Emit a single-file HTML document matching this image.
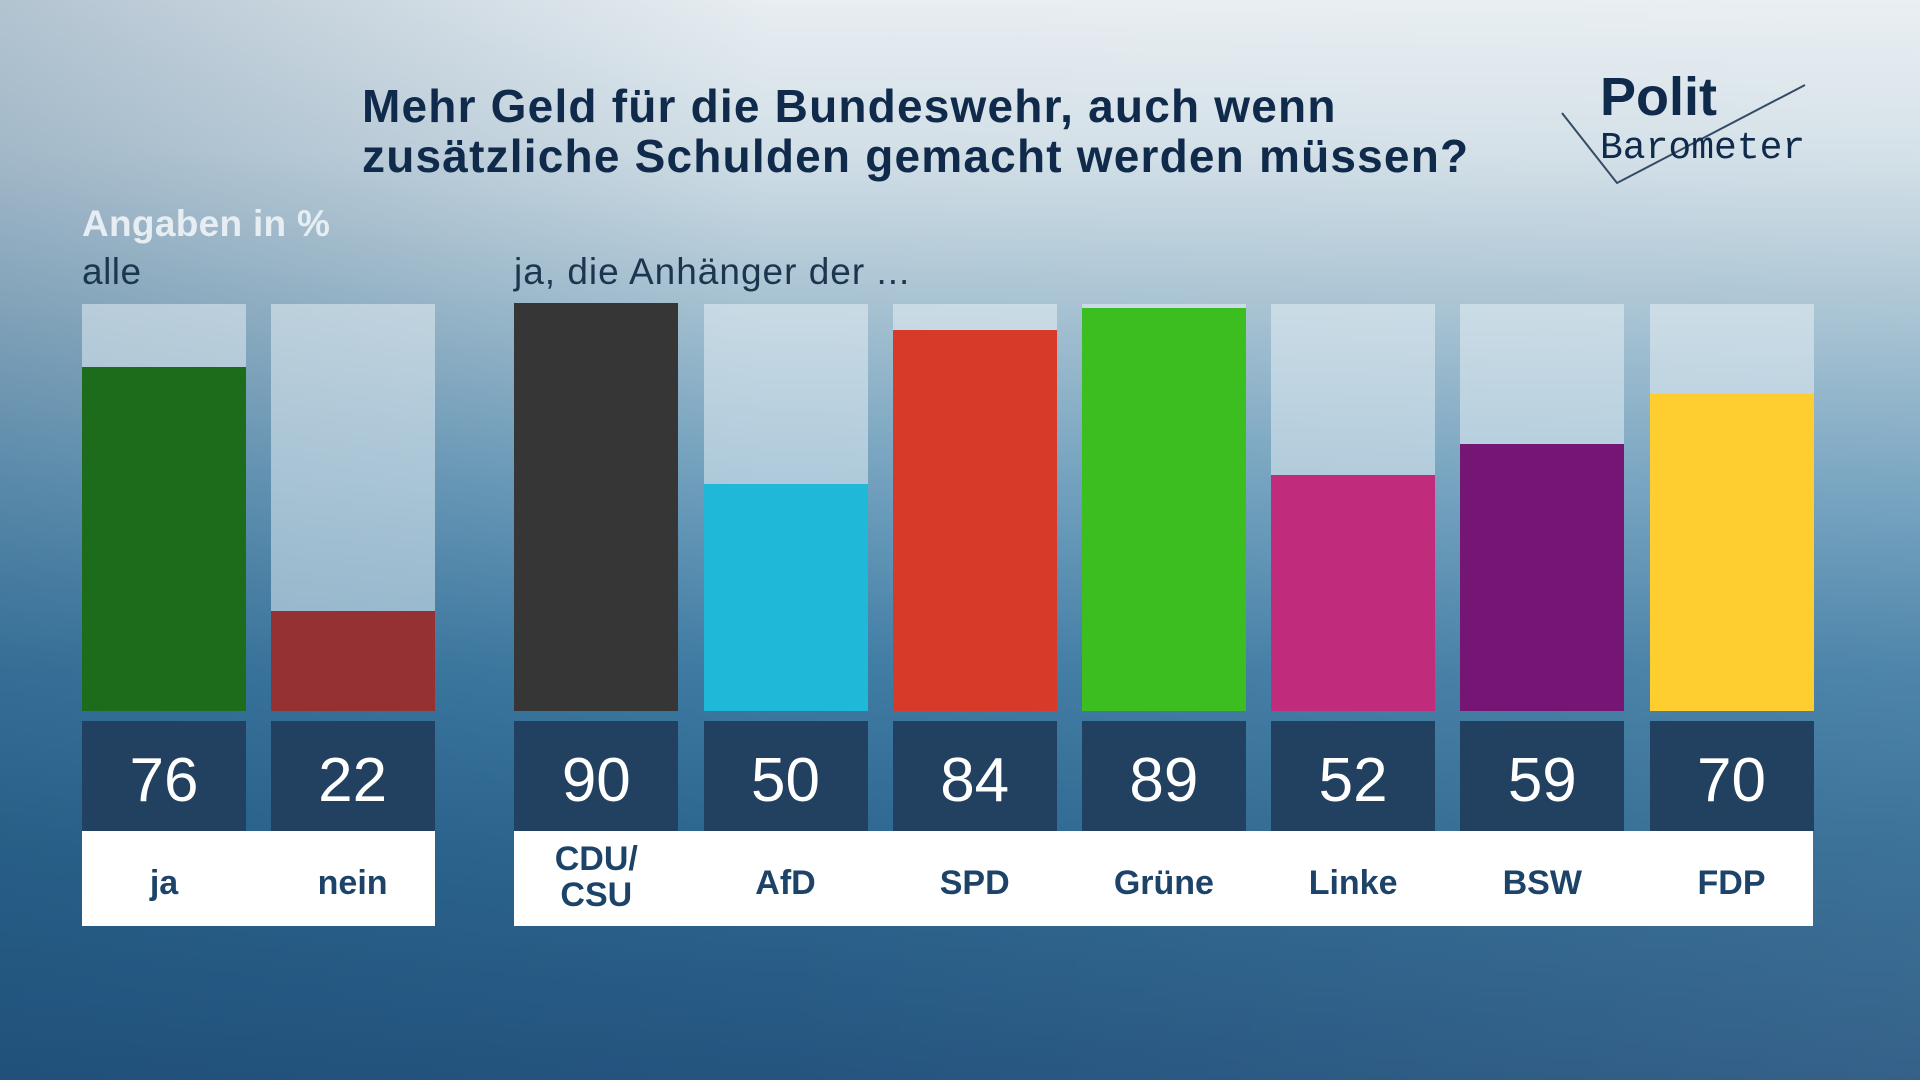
<!DOCTYPE html>
<html><head><meta charset="utf-8"><style>
*{margin:0;padding:0;box-sizing:border-box}
body{width:1920px;height:1080px;overflow:hidden;position:relative;font-family:"Liberation Sans","DejaVu Sans",sans-serif;
background:linear-gradient(180deg,#e8eef2 0%,#d2dfe7 14%,#a7c2d2 28%,#6f9fbd 45%,#3f7ba3 62%,#2d6790 78%,#24547f 100%);}
.ov{position:absolute;inset:0;background:linear-gradient(90deg,rgba(20,70,110,0.25) 0%,rgba(20,70,110,0) 40%,rgba(255,255,255,0.08) 100%)}
.a{position:absolute}
.title{left:362px;top:81px;font-size:46px;font-weight:bold;color:#0f2a4a;line-height:50px;letter-spacing:1.2px}
.bg{position:absolute;top:304px;height:407px;width:164px;background:rgba(235,243,248,0.5)}
.bar{position:absolute;bottom:369px;width:164px}
.num{position:absolute;top:721px;height:110px;width:164px;background:#22405f;color:#fff;font-size:62px;text-align:center;line-height:120px;font-weight:normal;-webkit-text-stroke:0}
.lab{position:absolute;top:836px;height:95px;width:164px;color:#1d4368;font-size:34px;font-weight:bold;text-align:center;line-height:95px}
.wb{position:absolute;top:831px;height:95px;background:#fff}
</style></head><body>
<div class="ov"></div>
<div class="a title">Mehr Geld für die Bundeswehr, auch wenn<br>zusätzliche Schulden gemacht werden müssen?</div>
<div class="a" style="left:1560px;top:68px;width:250px;height:120px">
<svg width="250" height="120"><polyline points="2,45 57,115 245,17" fill="none" stroke="#334b63" stroke-width="2"/>
<text x="40" y="47" font-family="Liberation Sans" font-weight="bold" font-size="54" fill="#0f2a4a">Polit</text>
<text x="40" y="90" font-family="Liberation Mono" font-size="38" fill="#0f2a4a">Barometer</text></svg></div>
<div class="a" style="left:82px;top:203px;font-size:37px;font-weight:bold;color:#e6eef3;letter-spacing:0.3px">Angaben in %</div>
<div class="a" style="left:82px;top:251px;font-size:37px;color:#1d3650;letter-spacing:0.5px">alle</div>
<div class="a" style="left:514px;top:251px;font-size:37px;color:#1d3650;letter-spacing:1px">ja, die Anhänger der ...</div>
<div class="wb" style="left:82px;width:353px"></div>
<div class="wb" style="left:514px;width:1299px"></div>
<div id="c"></div>
<script>
var d=[[82,76,"#1c6c1c","ja"],[270.6,22,"#953033","nein"],[514.3,90,"#363636","CDU/<br>CSU"],[703.5,50,"#1fb8d8","AfD"],[892.7,84,"#d73a29","SPD"],[1081.9,89,"#3cbd20","Grüne"],[1271.1,52,"#c02b7b","Linke"],[1460.3,59,"#761674","BSW"],[1649.5,70,"#fecd2f","FDP"]];
var h="";d.forEach(function(e){var hh=e[1]*4.531;
h+='<div class="bg" style="left:'+e[0]+'px"></div><div class="bar" style="left:'+e[0]+'px;height:'+hh+'px;background:'+e[2]+'"></div><div class="num" style="left:'+e[0]+'px">'+e[1]+'</div><div class="lab" style="left:'+e[0]+'px;'+(e[3].indexOf("<br>")>0?'line-height:36px;padding-top:5px':'')+'">'+e[3]+'</div>';});
document.getElementById("c").innerHTML=h;
</script>
</body></html>
